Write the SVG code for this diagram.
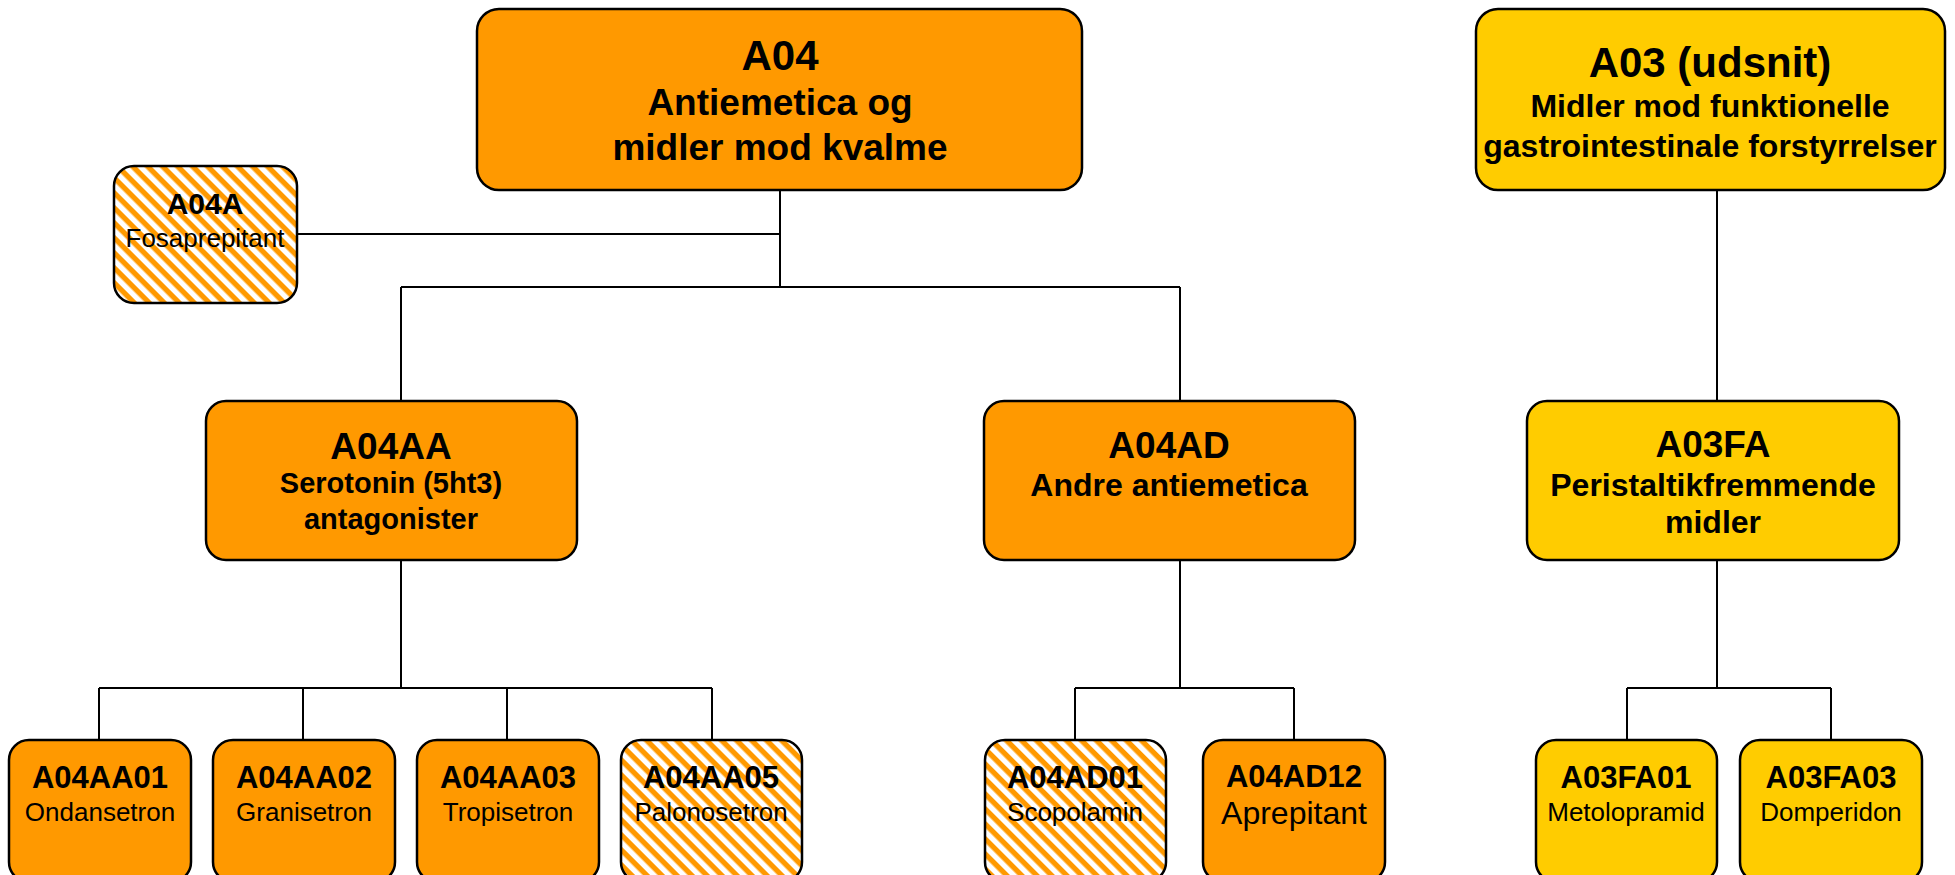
<svg xmlns="http://www.w3.org/2000/svg" width="1955" height="875" viewBox="0 0 1955 875">
<style>
.box{stroke:#000;stroke-width:2.5}
.or{fill:#FF9900}
.ye{fill:#FFCC00}
.st{fill:url(#stripes)}
.conn line{stroke:#000;stroke-width:2}
text{font-family:"Liberation Sans",Arial,sans-serif;text-anchor:middle;fill:#000}
.b{font-weight:bold}
</style>
<defs>
<pattern id="stripes" patternUnits="userSpaceOnUse" width="10.6" height="10.6" patternTransform="rotate(45)">
<rect width="10.6" height="10.6" fill="#fff"/>
<rect width="10.6" height="5.3" fill="#FF9900"/>
</pattern>
</defs>
<rect width="1955" height="875" fill="#fff"/>
<g id="connectors" class="conn">
<line x1="780" y1="190" x2="780" y2="287"/>
<line x1="297" y1="234" x2="780" y2="234"/>
<line x1="401" y1="287" x2="1180" y2="287"/>
<line x1="401" y1="287" x2="401" y2="401"/>
<line x1="1180" y1="287" x2="1180" y2="401"/>
<line x1="401" y1="560" x2="401" y2="688"/>
<line x1="99" y1="688" x2="712" y2="688"/>
<line x1="99" y1="688" x2="99" y2="740"/>
<line x1="303" y1="688" x2="303" y2="740"/>
<line x1="507" y1="688" x2="507" y2="740"/>
<line x1="712" y1="688" x2="712" y2="740"/>
<line x1="1180" y1="560" x2="1180" y2="688"/>
<line x1="1075" y1="688" x2="1294" y2="688"/>
<line x1="1075" y1="688" x2="1075" y2="740"/>
<line x1="1294" y1="688" x2="1294" y2="740"/>
<line x1="1717" y1="190" x2="1717" y2="401"/>
<line x1="1717" y1="560" x2="1717" y2="688"/>
<line x1="1627" y1="688" x2="1831" y2="688"/>
<line x1="1627" y1="688" x2="1627" y2="740"/>
<line x1="1831" y1="688" x2="1831" y2="740"/>
</g>
<g id="A04">
<rect class="box or" x="477" y="9" width="605" height="181" rx="22"/>
<text class="b" x="780" y="70" font-size="42">A04</text>
<text class="b" x="780" y="115" font-size="37">Antiemetica og</text>
<text class="b" x="780" y="160" font-size="37">midler mod kvalme</text>
</g>
<g id="A03">
<rect class="box ye" x="1476" y="9" width="469" height="181" rx="22"/>
<text class="b" x="1710" y="77" font-size="42">A03 (udsnit)</text>
<text class="b" x="1710" y="117" font-size="32">Midler mod funktionelle</text>
<text class="b" x="1710" y="157" font-size="32">gastrointestinale forstyrrelser</text>
</g>
<g id="A04A">
<rect class="box st" x="114" y="166" width="183" height="137" rx="20"/>
<text class="b" x="205" y="214" font-size="30">A04A</text>
<text x="205" y="247" font-size="26">Fosaprepitant</text>
</g>
<g id="A04AA">
<rect class="box or" x="206" y="401" width="371" height="159" rx="20"/>
<text class="b" x="391" y="459" font-size="37">A04AA</text>
<text class="b" x="391" y="493" font-size="29">Serotonin (5ht3)</text>
<text class="b" x="391" y="529" font-size="29">antagonister</text>
</g>
<g id="A04AD">
<rect class="box or" x="984" y="401" width="371" height="159" rx="20"/>
<text class="b" x="1169" y="458" font-size="37">A04AD</text>
<text class="b" x="1169" y="496" font-size="32">Andre antiemetica</text>
</g>
<g id="A03FA">
<rect class="box ye" x="1527" y="401" width="372" height="159" rx="20"/>
<text class="b" x="1713" y="457" font-size="37">A03FA</text>
<text class="b" x="1713" y="496" font-size="32">Peristaltikfremmende</text>
<text class="b" x="1713" y="533" font-size="32">midler</text>
</g>
<g id="A04AA01">
<rect class="box or" x="9" y="740" width="182" height="142" rx="20"/>
<text class="b" x="100" y="788" font-size="31">A04AA01</text>
<text x="100" y="821" font-size="26">Ondansetron</text>
</g>
<g id="A04AA02">
<rect class="box or" x="213" y="740" width="182" height="142" rx="20"/>
<text class="b" x="304" y="788" font-size="31">A04AA02</text>
<text x="304" y="821" font-size="26">Granisetron</text>
</g>
<g id="A04AA03">
<rect class="box or" x="417" y="740" width="182" height="142" rx="20"/>
<text class="b" x="508" y="788" font-size="31">A04AA03</text>
<text x="508" y="821" font-size="26">Tropisetron</text>
</g>
<g id="A04AA05">
<rect class="box st" x="621" y="740" width="181" height="142" rx="20"/>
<text class="b" x="711" y="788" font-size="31">A04AA05</text>
<text x="711" y="821" font-size="26">Palonosetron</text>
</g>
<g id="A04AD01">
<rect class="box st" x="985" y="740" width="181" height="142" rx="20"/>
<text class="b" x="1075" y="788" font-size="31">A04AD01</text>
<text x="1075" y="821" font-size="26">Scopolamin</text>
</g>
<g id="A04AD12">
<rect class="box or" x="1203" y="740" width="182" height="142" rx="20"/>
<text class="b" x="1294" y="787" font-size="31">A04AD12</text>
<text x="1294" y="824" font-size="32">Aprepitant</text>
</g>
<g id="A03FA01">
<rect class="box ye" x="1536" y="740" width="181" height="142" rx="20"/>
<text class="b" x="1626" y="788" font-size="31">A03FA01</text>
<text x="1626" y="821" font-size="26">Metolopramid</text>
</g>
<g id="A03FA03">
<rect class="box ye" x="1740" y="740" width="182" height="142" rx="20"/>
<text class="b" x="1831" y="788" font-size="31">A03FA03</text>
<text x="1831" y="821" font-size="26">Domperidon</text>
</g>
</svg>
